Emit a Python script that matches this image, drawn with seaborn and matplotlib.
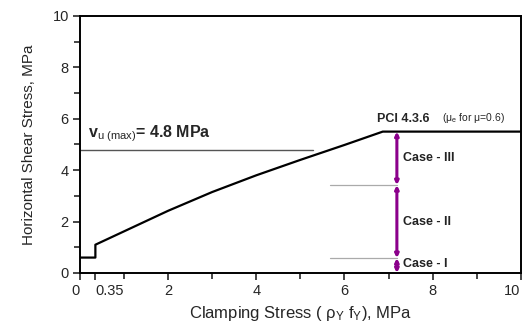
import numpy as np
import pandas as pd
import matplotlib
matplotlib.use("Agg")
import matplotlib.pyplot as plt
import seaborn as sns

# Data
curve_x = [0.0, 0.35, 0.35, 1.0, 2.0, 3.0, 4.0, 5.0, 6.0, 6.87, 10.0]
curve_y = [0.6, 0.6, 1.1, 1.62, 2.42, 3.15, 3.8, 4.4, 4.98, 5.5, 5.5]
vu_max = 4.8
vu_x_end = 5.28
case_bounds = [0.0, 0.58, 3.42, 5.5]
case_labels = ["Case - I", "Case - II", "Case - III"]
case_x = 7.19
case_line_start = 5.67
x_ticks = [0, 0.35, 2, 4, 6, 8, 10]
x_ticklabels = ["0", "0.35", "2", "4", "6", "8", "10"]
y_ticks = [0, 2, 4, 6, 8, 10]

sns.set_style("ticks")
plt.rcParams['font.family'] = ['Liberation Sans', 'DejaVu Sans']
plt.rcParams['mathtext.fontset'] = 'custom'
plt.rcParams['mathtext.rm'] = 'Liberation Sans'
plt.rcParams['mathtext.it'] = 'Liberation Sans'
plt.rcParams['mathtext.bf'] = 'Liberation Sans:bold'

fig = plt.figure(figsize=(5.26, 3.25), dpi=100)
ax = fig.add_axes([0.152, 0.160, 0.838, 0.791])

df = pd.DataFrame({"x": curve_x, "y": curve_y, "order": range(len(curve_x))})
sns.lineplot(data=df, x="x", y="y", sort=False, estimator=None, color="black",
             lw=1.6, ax=ax)

# vu max line
ax.plot([0, vu_x_end], [vu_max, vu_max], color="#555555", lw=1.0)
ax.text(0.18, 5.0, r"v$_{\mathrm{u\ (max)}}$= 4.8 MPa", fontsize=11.5, fontweight="bold",
        ha="left", va="bottom")

# case lines
for b in case_bounds[1:3]:
    ax.plot([case_line_start, case_x], [b, b], color="#aaaaaa", lw=0.9)

purple = "#8b008b"
for lo, hi, lab in zip(case_bounds[:-1], case_bounds[1:], case_labels):
    ax.annotate("", xy=(case_x, hi), xytext=(case_x, lo),
                arrowprops=dict(arrowstyle="<|-|>", color=purple, lw=2.2,
                                mutation_scale=5, shrinkA=0, shrinkB=0))
    ax.text(case_x + 0.13, (lo + hi) / 2 + (0.0 if lab != "Case - I" else 0.05), lab,
            fontsize=9, fontweight="bold", color="#222222", ha="left", va="center")

ax.text(6.73, 5.75, r"PCI 4.3.6", fontsize=9, fontweight="bold", ha="left", va="bottom")
ax.text(8.22, 5.75, r"($\mu_e$ for $\mu$=0.6)", fontsize=7.5, ha="left", va="bottom")

ax.set_xlim(0, 10)
ax.set_ylim(0, 10)
ax.set_xticks(x_ticks)
ax.set_xticklabels(x_ticklabels, fontsize=10.5)
ax.set_xticks([1, 3, 5, 7, 9], minor=True)
ax.set_yticks(y_ticks)
ax.set_yticklabels([str(v) for v in y_ticks], fontsize=10.5)
ax.set_yticks([1, 3, 5, 7, 9], minor=True)
labs = ax.get_xticklabels()
labs[0].set_horizontalalignment("right")
labs[1].set_horizontalalignment("left")
labs[-1].set_horizontalalignment("right")
ax.tick_params(axis="both", which="major", length=5, width=1.2, direction="out", pad=3)
ax.tick_params(axis="both", which="minor", length=4, width=1.2, direction="out")

for s in ax.spines.values():
    s.set_linewidth(1.4)
    s.set_color("black")

ax.set_xlabel(r"Clamping Stress ( $\rho_{\mathrm{Y}}$ f$_{\mathrm{Y}}$), MPa", fontsize=12, labelpad=4)
ax.set_ylabel("Horizontal Shear Stress, MPa", fontsize=11, labelpad=12)

fig.savefig("out.png", dpi=100)
